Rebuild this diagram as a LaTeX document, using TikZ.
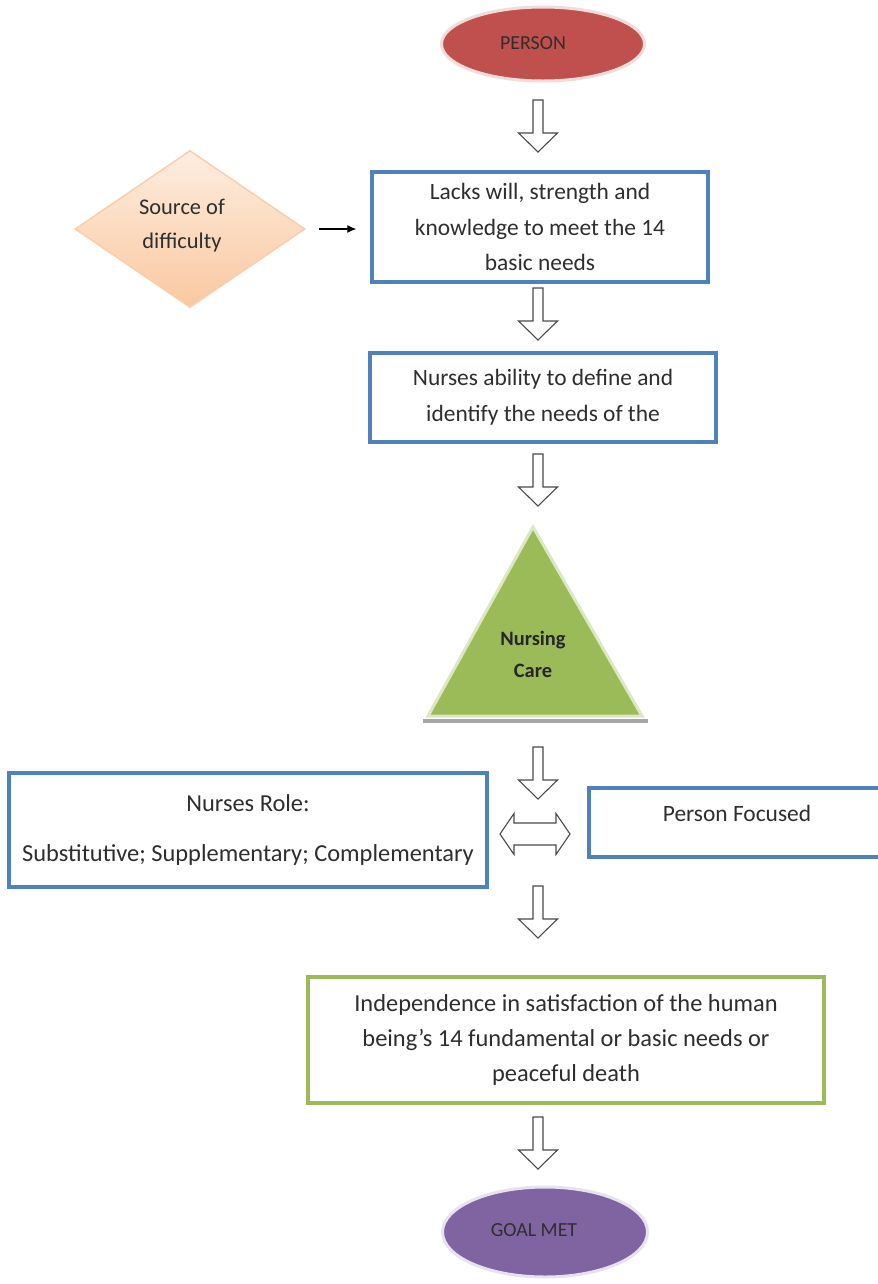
\documentclass[tikz,border=0pt]{standalone}
\usepackage{fontspec}
\setmainfont{Carlito}
\usetikzlibrary{shapes.geometric,arrows.meta}

\definecolor{boxblue}{HTML}{4F81BD}
\definecolor{boxgreen}{HTML}{9BBB59}
\definecolor{trifill}{HTML}{9BBB59}
\definecolor{triedge}{HTML}{DCE8C4}
\definecolor{redfill}{HTML}{C0504D}
\definecolor{rededge}{HTML}{F2DCDB}
\definecolor{purfill}{HTML}{8064A2}
\definecolor{puredge}{HTML}{E8E1F0}
\definecolor{peachtop}{HTML}{FDEDE0}
\definecolor{peachbot}{HTML}{FAC8A0}
\definecolor{peachedge}{HTML}{F6CFAE}
\definecolor{textgray}{HTML}{2E2E2E}
\definecolor{arrowgray}{HTML}{4A4A4A}

\begin{document}
\begin{tikzpicture}[x=1bp,y=-1bp,
  txt/.style={text=textgray, font=\fontsize{23.5}{36}\selectfont, align=center},
  bluebox/.style={txt, draw=boxblue, line width=3.5bp, fill=white, inner sep=0pt},
  greenbox/.style={txt, draw=boxgreen, line width=3.5bp, fill=white, inner sep=0pt},
  oval/.style={ellipse, line width=3bp, inner sep=0pt},
  ovaltext/.style={text=textgray, font=\fontsize{20}{22}\selectfont, inner sep=0pt},
  arrowline/.style={draw=arrowgray, line width=1.1bp, fill=white, line join=miter},
  pics/hollowdown/.style={code={
    \path[arrowline] (-5,-26) -- (5,-26) -- (5,7) -- (19.5,7) -- (0,26)
      -- (-19.5,7) -- (-5,7) -- cycle;}},
  pics/hollowboth/.style={code={
    \path[arrowline] (-35,0) -- (-21,-20.5) -- (-21,-11) -- (21,-11) -- (21,-20.5)
      -- (35,0) -- (21,20.5) -- (21,11) -- (-21,11) -- (-21,20.5) -- cycle;}}
]
\clip (0,0) rectangle (878,1284);
\fill[white] (0,0) rectangle (878,1284);

% start and end ovals, with their labels set a little left of centre
\node[oval, fill=redfill, draw=rededge, minimum width=203bp, minimum height=74bp]
  (person) at (543,44) {};
\node[ovaltext] (personlbl) at (533,43) {PERSON};
\node[oval, fill=purfill, draw=puredge, minimum width=205bp, minimum height=90bp]
  (goal) at (545,1232) {};
\node[ovaltext] (goallbl) at (534,1230) {GOAL MET};

% source of difficulty
\node[diamond, aspect=1.46, top color=peachtop, bottom color=peachbot, draw=peachedge,
  line width=1.5bp, minimum width=230bp, minimum height=157bp, inner sep=0pt]
  (diff) at (190,229) {};
\node[txt, font=\fontsize{22.5}{34}\selectfont] (difflbl) at (182,226)
  {Source of\\difficulty};

% process boxes
\node[bluebox, minimum width=336bp, minimum height=110bp] (lacks) at (540,227)
  {Lacks will, strength and\\knowledge to meet the 14\\basic needs};
\node[bluebox, minimum width=346bp, minimum height=89bp] (ability) at (543,397.5)
  {Nurses ability to define and\\identify the needs of the};

% nursing care triangle
\coordinate (tapex) at (533,527);
\coordinate (tleft) at (428,716);
\coordinate (tright) at (642,716);
\draw[line width=3.5bp, draw=gray!70] (423,721) -- (648,721);
\path[fill=trifill, draw=triedge, line width=3bp, line join=miter]
  (tapex) -- (tright) -- (tleft) -- cycle;
\node[txt, font=\bfseries\fontsize{20.5}{32}\selectfont, text=black!85] (care) at (533,654)
  {Nursing\\Care};

% role boxes
\node[bluebox, minimum width=478bp, minimum height=114bp, font=\fontsize{24.5}{36}\selectfont]
  (role) at (248,830)
  {Nurses Role:\\[14bp]Substitutive; Supplementary; Complementary};
\node[bluebox, minimum width=296bp, minimum height=69bp, text depth=19bp] (focus)
  at (737,822.5) {Person Focused};

% outcome box
\node[greenbox, minimum width=516bp, minimum height=126bp, font=\fontsize{24.5}{35}\selectfont]
  (indep) at (566,1040)
  {Independence in satisfaction of the human\\being's 14 fundamental or basic needs or\\peaceful death};

% connectors
\draw[-{Latex[length=9bp,width=8bp]}, line width=1.2bp, draw=black,
  shorten <=13bp, shorten >=14bp] (diff.east) -- (lacks.west |- diff.east);

\coordinate (a1) at (538,126);
\coordinate (a2) at (538,314);
\coordinate (a3) at (538,480);
\coordinate (a4) at (538,773);
\coordinate (a5) at (538,912);
\coordinate (a6) at (538,1143);
\coordinate (dbl) at (535,834);
\foreach \c in {a1,a2,a3,a4,a5,a6} \pic at (\c) {hollowdown};
\pic at (dbl) {hollowboth};
\end{tikzpicture}
\end{document}
